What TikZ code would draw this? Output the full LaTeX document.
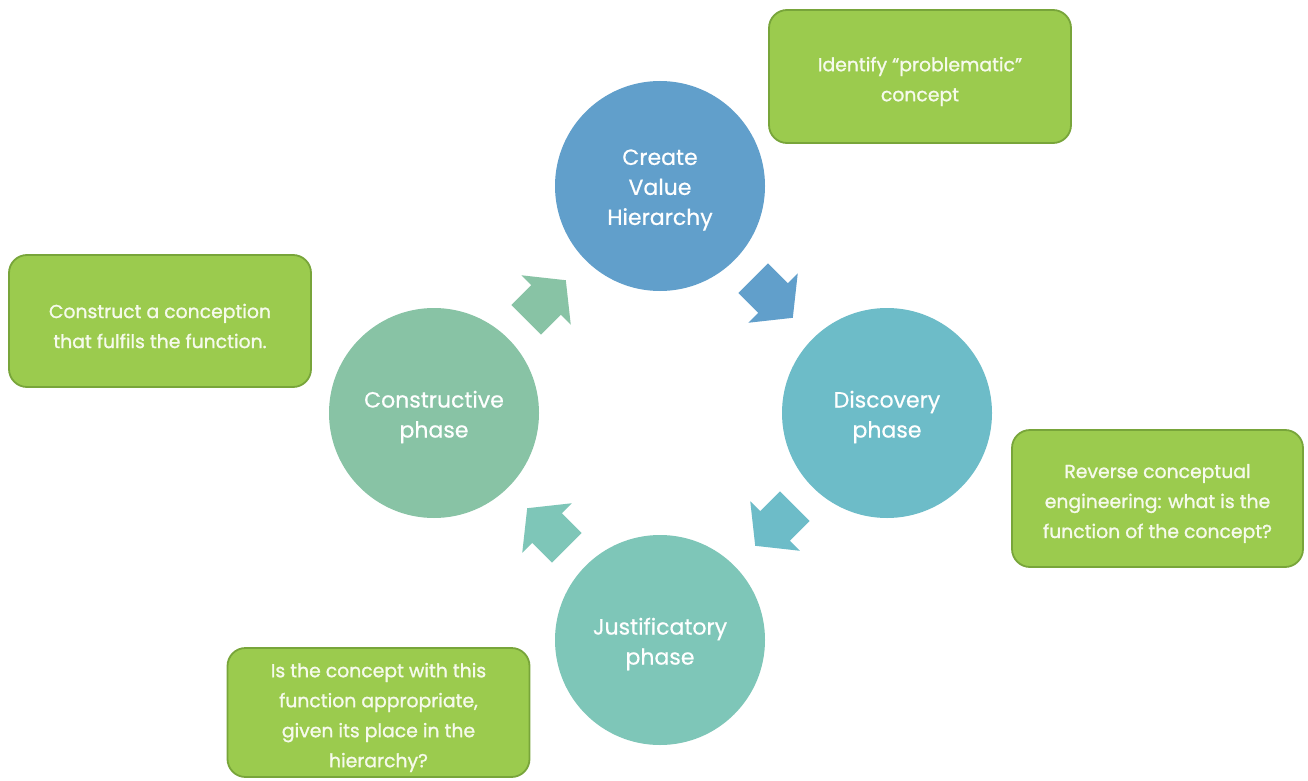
\documentclass[tikz,border=0pt]{standalone}
\usepackage{fontspec}
\setmainfont{Poppins}
\newfontfamily\notefont{Poppins}[FakeBold=1.2]
\newfontfamily\phasefont{Poppins}[FakeBold=0.6]
\begin{document}
\begin{tikzpicture}[x=1pt,y=-1pt,
  phase/.style={circle,minimum size=210pt,inner sep=0pt},
  phasetext/.style={text=white,align=center,inner sep=0pt,yshift=-4pt,
    font=\phasefont\fontsize{22}{30}\selectfont},
  note/.style={rounded corners=18pt,draw=noteedge,line width=1.8pt,fill=notefill,
    inner sep=0pt,minimum width=302pt},
  notetext/.style={text=notetextc,align=center,inner sep=0pt,yshift=-5pt,
    font=\notefont\fontsize{18.8}{30}\selectfont}
]
\definecolor{cblue}{HTML}{619FCB}
\definecolor{cteal}{HTML}{6DBCC8}
\definecolor{cmint}{HTML}{7EC6B8}
\definecolor{csage}{HTML}{88C3A5}
\definecolor{notefill}{HTML}{9BCB4E}
\definecolor{noteedge}{HTML}{78A53A}
\definecolor{notetextc}{HTML}{F6FAEC}
\useasboundingbox (0,0) rectangle (1308,781);
\fill[white] (0,0) rectangle (1308,781);

% the four phases of the cycle
\node[phase,fill=cblue,label={[phasetext]center:{Create\\Value\\Hierarchy}}] (create) at (660,186) {};
\node[phase,fill=cteal,label={[phasetext]center:{Discovery\\phase}}] (discover) at (887,413) {};
\node[phase,fill=cmint,label={[phasetext]center:{Justificatory\\phase}}] (justify) at (660,640) {};
\node[phase,fill=csage,label={[phasetext]center:{Constructive\\phase}}] (construct) at (434,413) {};

% block arrows between the phases (base of the head at the given point)
\def\blockshape{(-28,-21) -- (0,-21) -- (0,-35) -- (28,0) -- (0,35) -- (0,21) -- (-28,21) -- cycle}
\fill[cblue] [shift={(773,298)},rotate=-45] \blockshape;
\fill[cteal] [shift={(775,526)},rotate=-135] \blockshape;
\fill[cmint] [shift={(547,528)},rotate=135] \blockshape;
\fill[csage] [shift={(546,300)},rotate=45] \blockshape;

% notes
\node[note,minimum height=133pt,label={[notetext]center:{Identify “problematic”\\concept}}]
  (identify) at (920,76.5) {};
\node[note,minimum height=132pt,label={[notetext]center:{Construct a conception\\that fulfils the function.}}]
  (conception) at (160,321) {};
\node[note,minimum height=137pt,minimum width=291pt,
  label={[notetext]center:{Reverse conceptual\\engineering: what is the\\function of the concept?}}]
  (reverse) at (1157.5,498.5) {};
\node[note,minimum height=129pt,
  label={[notetext]center:{Is the concept with this\\function appropriate,\\given its place in the\\hierarchy?}}]
  (appropriate) at (378.5,712.5) {};
\end{tikzpicture}
\end{document}
